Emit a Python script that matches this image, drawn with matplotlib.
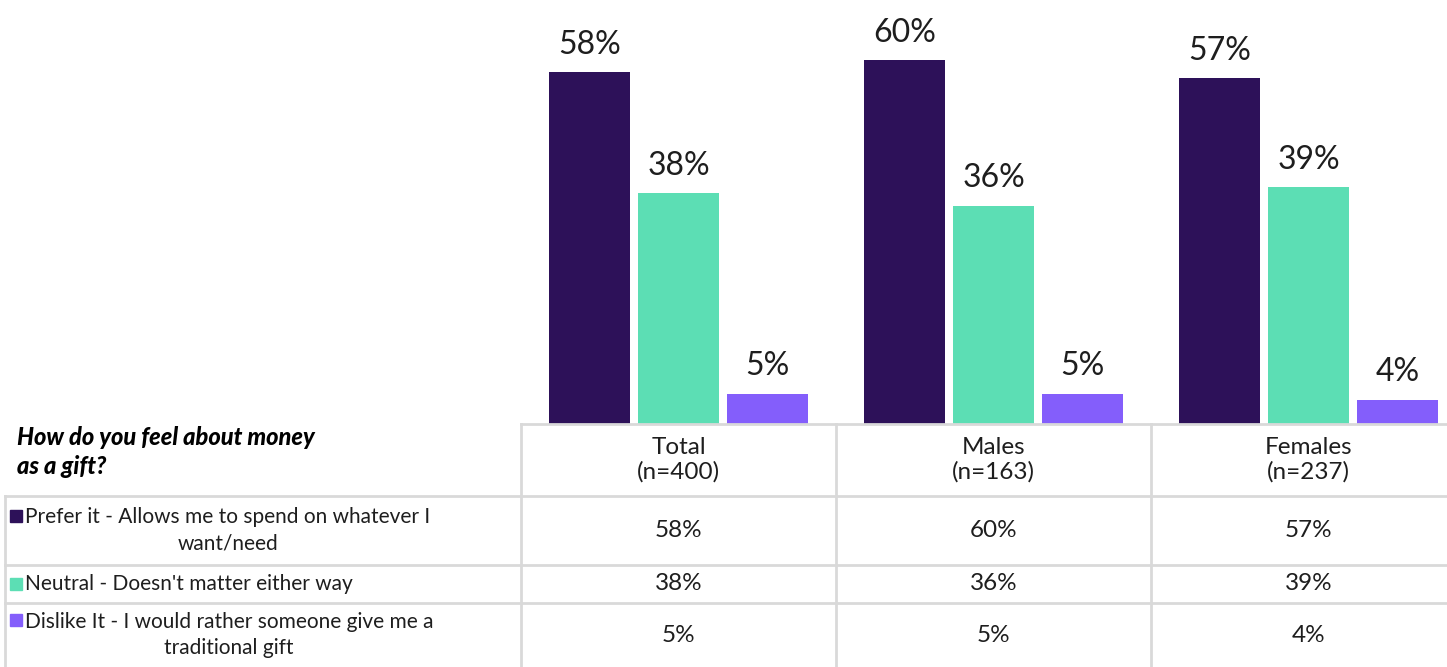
import matplotlib.pyplot as plt
import numpy as np

plt.rcParams['font.family'] = ['Lato', 'DejaVu Sans']

GROUPS = ['Total', 'Males', 'Females']
BASES = ['(n=400)', '(n=163)', '(n=237)']
SERIES = [
    'Prefer it - Allows me to spend on whatever I\nwant/need',
    "Neutral - Doesn't matter either way",
    'Dislike It - I would rather someone give me a\ntraditional gift',
]
PREFER = [58, 60, 57]
NEUTRAL = [38, 36, 39]
DISLIKE = [5, 5, 4]
QUESTION = 'How do you feel about money\nas a gift?'

COLORS = ['#2D1159', '#5CDEB4', '#845EFB']
GRID = '#D9D9D9'
TXT = '#1E1E1E'
NARROW = ['Liberation Sans Narrow', 'Lato', 'DejaVu Sans']

W, H = 1447, 667
fig = plt.figure(figsize=(W / 100, H / 100), dpi=100)

# table geometry (pixels)
tab_left = 521
col_w = 315
tab_top = 424
row_y = [424, 496, 565, 603, 667]

# bar axes, aligned to the table columns (last column runs past the edge)
ax = fig.add_axes([tab_left / W, (H - tab_top) / H, 3 * col_w / W, tab_top / H])
values = [PREFER, NEUTRAL, DISLIKE]
x = np.arange(len(GROUPS))
bw = 0.257
step = 0.283
for i, vals in enumerate(values):
    bars = ax.bar(x + (i - 1) * step, vals, width=bw, color=COLORS[i])
    for b, v in zip(bars, vals):
        ax.annotate(f"{v}%", (b.get_x() + b.get_width() / 2, v),
                    xytext=(0, 9), textcoords='offset points',
                    ha='center', va='bottom', fontsize=23, color=TXT)
ax.set_xlim(-0.5, 2.5)
ax.set_ylim(0, 69.9)
ax.axis('off')

# overlay for the data table
tab = fig.add_axes([0, 0, 1, 1])
tab.set_xlim(0, W)
tab.set_ylim(H, 0)
tab.axis('off')

lw = 2
right = tab_left + 3 * col_w
tab.plot([tab_left, right], [tab_top, tab_top], color=GRID, lw=lw)
for y in row_y[1:4]:
    tab.plot([5, right], [y, y], color=GRID, lw=lw)
tab.plot([5, 5], [row_y[1], H], color=GRID, lw=lw)
for k in range(4):
    xx = tab_left + k * col_w
    tab.plot([xx, xx], [tab_top, H], color=GRID, lw=lw)

tab.text(17, 452, QUESTION, fontsize=17, fontweight='black', style='italic',
         ha='left', va='center', linespacing=1.3, color='black')

for j, (g, n) in enumerate(zip(GROUPS, BASES)):
    cx = tab_left + (j + 0.5) * col_w
    tab.text(cx, (row_y[0] + row_y[1]) / 2, f"{g}\n{n}", fontsize=17.5,
             ha='center', va='center', linespacing=1.2, color=TXT)

for i, (lab, vals) in enumerate(zip(SERIES, values)):
    y0, y1 = row_y[i + 1], row_y[i + 2]
    cy = (y0 + y1) / 2
    nlines = lab.count('\n') + 1
    first = cy - (nlines - 1) * 15
    tab.add_patch(plt.Rectangle((10, first - 6), 12, 12, color=COLORS[i]))
    tab.text(25, cy, lab, fontsize=15, family=NARROW, ha='left', va='center',
             multialignment='center', linespacing=1.4, color=TXT)
    for j, v in enumerate(vals):
        cx = tab_left + (j + 0.5) * col_w
        tab.text(cx, cy, f"{v}%", fontsize=17.5, ha='center', va='center',
                 color=TXT)

fig.savefig('out.png', dpi=100)
